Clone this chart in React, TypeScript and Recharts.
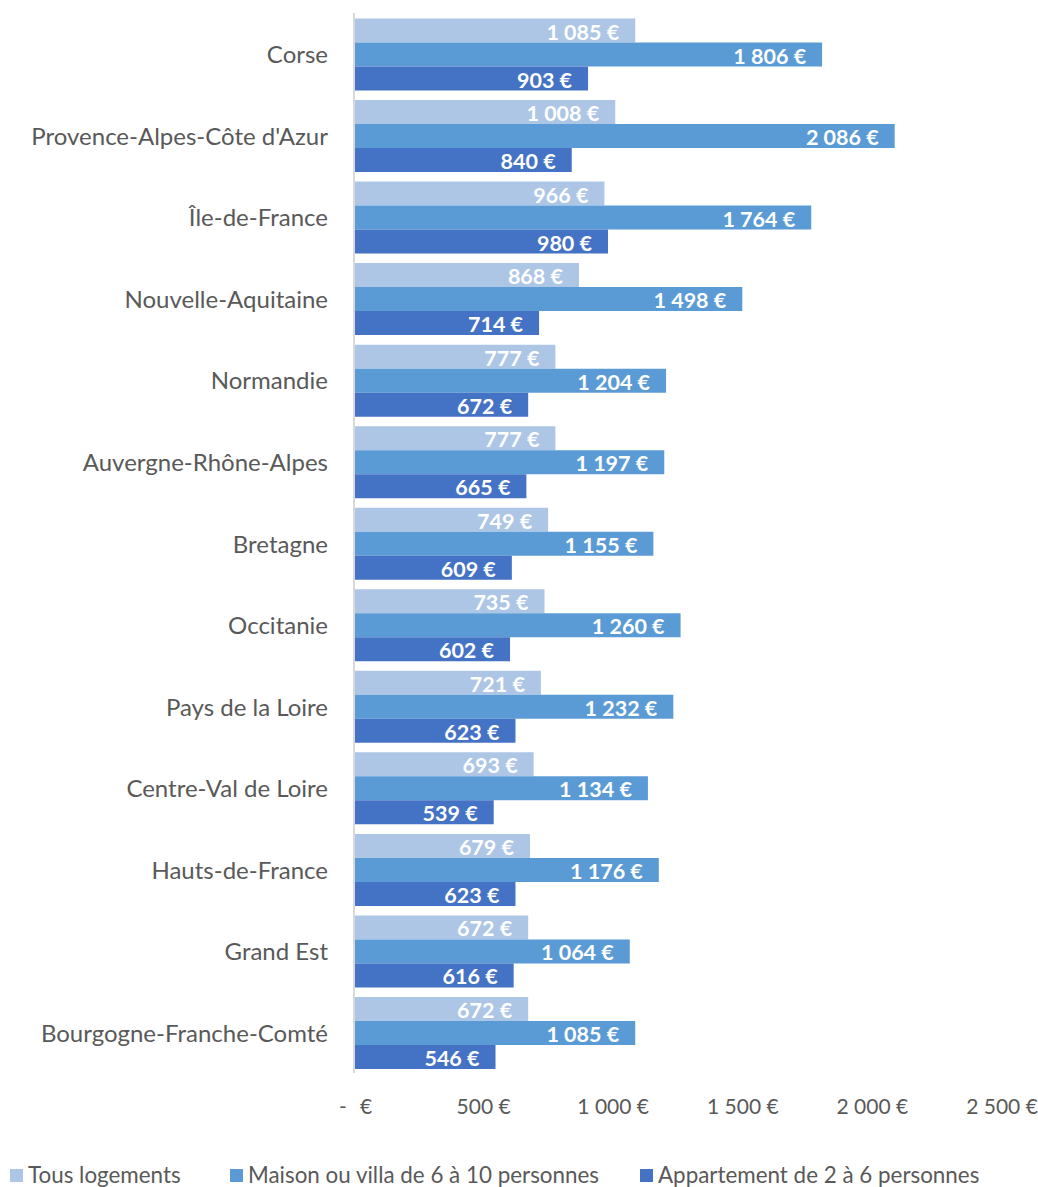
import React from "react";
import { BarChart, Bar, XAxis, YAxis, LabelList } from "recharts";

const regions = [
  "Corse",
  "Provence-Alpes-Côte d'Azur",
  "Île-de-France",
  "Nouvelle-Aquitaine",
  "Normandie",
  "Auvergne-Rhône-Alpes",
  "Bretagne",
  "Occitanie",
  "Pays de la Loire",
  "Centre-Val de Loire",
  "Hauts-de-France",
  "Grand Est",
  "Bourgogne-Franche-Comté",
];
const tousLogements = [1085, 1008, 966, 868, 777, 777, 749, 735, 721, 693, 679, 672, 672];
const maisonVilla = [1806, 2086, 1764, 1498, 1204, 1197, 1155, 1260, 1232, 1134, 1176, 1064, 1085];
const appartement = [903, 840, 980, 714, 672, 665, 609, 602, 623, 539, 623, 616, 546];
const xTicks = [0, 500, 1000, 1500, 2000, 2500];
const seriesNames = [
  "Tous logements",
  "Maison ou villa de 6 à 10 personnes",
  "Appartement de 2 à 6 personnes",
];
const colors = ["#adc6e6", "#5b9bd5", "#4472c4"];

const data = regions.map((r, i) => ({
  region: r,
  tous: tousLogements[i],
  maison: maisonVilla[i],
  appart: appartement[i],
}));

const FONT = "Lato, sans-serif";

const fmt = (v: number) => {
  const s = String(Math.round(v));
  return s.replace(/\B(?=(\d{3})+(?!\d))/g, " ") + " €";
};

const XTick = (props: any) => {
  const { x, y, payload } = props;
  if (payload.value === 0) {
    return (
      <g>
        <text x={x - 11} y={y + 24} textAnchor="middle" fill="#595959" fontSize={21} fontFamily={FONT} dominantBaseline="central">-</text>
        <text x={x + 12} y={y + 24} textAnchor="middle" fill="#595959" fontSize={21} fontFamily={FONT} dominantBaseline="central">€</text>
      </g>
    );
  }
  return (
    <text x={x} y={y + 24} textAnchor="middle" fill="#595959" fontSize={21} fontFamily={FONT} dominantBaseline="central">
      {fmt(payload.value)}
    </text>
  );
};

const YTick = (props: any) => {
  const { y, payload } = props;
  return (
    <text x={328} y={y} textAnchor="end" fill="#595959" fontSize={24} fontFamily={FONT} dominantBaseline="central">
      {payload.value}
    </text>
  );
};

const BarLabel = (props: any) => {
  const { x, y, width, height, value } = props;
  return (
    <text
      x={x + width - 16}
      y={y + height / 2 + 1}
      textAnchor="end"
      dominantBaseline="central"
      fill="#ffffff"
      fontSize={21.5}
      fontWeight="bold"
      fontFamily={FONT}
    >
      {fmt(value)}
    </text>
  );
};

const legendLeft = [10, 230, 640];

export default function App() {
  return (
    <div style={{ position: "absolute", left: 0, top: 0, width: 1038, height: 1187, background: "#fff" }}>
      <BarChart
        width={1038}
        height={1187}
        data={data}
        layout="vertical"
        margin={{ top: 13, right: 36, left: 0, bottom: 54 }}
        barCategoryGap={5.5}
        barGap={0}
      >
        <XAxis
          type="number"
          domain={[0, 2500]}
          ticks={xTicks}
          axisLine={false}
          tickLine={false}
          tick={<XTick />}
          height={60}
          interval={0}
        />
        <YAxis
          type="category"
          dataKey="region"
          width={354}
          axisLine={{ stroke: "#d9d9d9", strokeWidth: 2 }}
          tickLine={false}
          tick={<YTick />}
          interval={0}
        />
        <Bar dataKey="tous" fill={colors[0]} isAnimationActive={false}>
          <LabelList dataKey="tous" content={<BarLabel />} />
        </Bar>
        <Bar dataKey="maison" fill={colors[1]} isAnimationActive={false}>
          <LabelList dataKey="maison" content={<BarLabel />} />
        </Bar>
        <Bar dataKey="appart" fill={colors[2]} isAnimationActive={false}>
          <LabelList dataKey="appart" content={<BarLabel />} />
        </Bar>
      </BarChart>
      {seriesNames.map((n, i) => (
        <div
          key={n}
          style={{
            position: "absolute",
            top: 1163,
            left: legendLeft[i],
            display: "flex",
            alignItems: "center",
            fontFamily: FONT,
            fontSize: 22.4,
            color: "#595959",
            whiteSpace: "nowrap",
            lineHeight: "24px",
          }}
        >
          <span style={{ display: "inline-block", width: 13, height: 13, background: colors[i], marginRight: 5 }} />
          <span>{n}</span>
        </div>
      ))}
    </div>
  );
}
